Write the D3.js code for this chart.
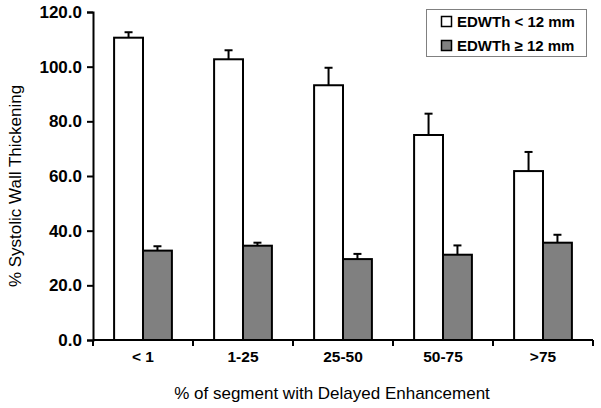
<!DOCTYPE html>
<html lang="en">
<head>
    <meta charset="UTF-8">
    <title>Systolic Wall Thickening</title>
    <script src="https://d3js.org/d3.v7.min.js"></script>
    <style>
        body { margin: 0; background: #fff; }
        text { font-family: Arial, "Liberation Sans", sans-serif; fill: #000; }
        .tick-label { font-size: 17px; font-weight: bold; }
        .cat-label { font-size: 15.5px; font-weight: bold; }
        .axis-title { font-size: 17px; }
        .legend-label { font-size: 15px; font-weight: bold; }
    </style>
</head>
<body>
    <div id="chart"></div>
    <script>
        // 数据
        const categories = ['< 1', '1-25', '25-50', '50-75', '>75'];
        const seriesNames = ['EDWTh < 12 mm', 'EDWTh \u2265 12 mm'];
        const thinValues = [110.6, 102.7, 93.2, 75.0, 61.8];
        const thinErrors = [2.0, 3.3, 6.4, 7.8, 7.0];
        const thickValues = [32.7, 34.5, 29.6, 31.2, 35.6];
        const thickErrors = [1.6, 1.1, 1.9, 3.4, 2.9];
        const yTicks = [0, 20, 40, 60, 80, 100, 120];

        const width = 601, height = 408;
        const margin = { left: 93, right: 8, top: 12, bottom: 68 };
        const colors = ['#ffffff', '#808080'];

        const svg = d3.select('#chart').append('svg')
            .attr('width', width)
            .attr('height', height);

        const x = d3.scaleBand()
            .domain(categories)
            .range([margin.left, width - margin.right]);

        const xInner = d3.scaleBand()
            .domain([0, 1])
            .range([0, x.bandwidth()])
            .paddingOuter(0.73)
            .paddingInner(0);

        const y = d3.scaleLinear()
            .domain([0, 120])
            .range([height - margin.bottom, margin.top]);

        const series = [
            { values: thinValues, errors: thinErrors },
            { values: thickValues, errors: thickErrors }
        ];

        // 柱子
        series.forEach((s, si) => {
            const g = svg.append('g');
            g.selectAll('rect')
                .data(categories)
                .enter().append('rect')
                .attr('x', c => x(c) + xInner(si))
                .attr('y', (c, i) => y(s.values[i]))
                .attr('width', xInner.bandwidth())
                .attr('height', (c, i) => y(0) - y(s.values[i]))
                .attr('fill', colors[si])
                .attr('stroke', '#000')
                .attr('stroke-width', 2);

            // 误差线 (只向上)
            const cx = c => x(c) + xInner(si) + xInner.bandwidth() / 2;
            const err = g.selectAll('g.err')
                .data(categories)
                .enter().append('g')
                .attr('class', 'err');
            err.append('line')
                .attr('x1', cx)
                .attr('x2', cx)
                .attr('y1', (c, i) => y(s.values[i]))
                .attr('y2', (c, i) => y(s.values[i] + s.errors[i]))
                .attr('stroke', '#000')
                .attr('stroke-width', 2);
            err.append('line')
                .attr('x1', c => cx(c) - 4)
                .attr('x2', c => cx(c) + 4)
                .attr('y1', (c, i) => y(s.values[i] + s.errors[i]))
                .attr('y2', (c, i) => y(s.values[i] + s.errors[i]))
                .attr('stroke', '#000')
                .attr('stroke-width', 2);
        });

        // Y 轴
        const yAxis = svg.append('g')
            .attr('transform', `translate(${margin.left},0)`)
            .call(d3.axisLeft(y).tickValues(yTicks).tickFormat(d3.format('.1f')).tickSize(6).tickPadding(5));
        yAxis.attr('font-size', null).attr('font-family', null);
        yAxis.select('.domain').attr('stroke', '#000').attr('stroke-width', 2);
        yAxis.selectAll('.tick line').attr('stroke', '#000').attr('stroke-width', 2);
        yAxis.selectAll('.tick text').attr('class', 'tick-label').attr('fill', '#000');

        // X 轴 (刻度在类别之间)
        const xAxisG = svg.append('g')
            .attr('transform', `translate(0,${y(0)})`);
        xAxisG.append('line')
            .attr('x1', margin.left).attr('x2', width - margin.right)
            .attr('y1', 0).attr('y2', 0)
            .attr('stroke', '#000').attr('stroke-width', 2);
        const boundaries = categories.map(c => x(c)).concat([x(categories[categories.length - 1]) + x.bandwidth()]);
        xAxisG.selectAll('line.tk')
            .data(boundaries)
            .enter().append('line')
            .attr('class', 'tk')
            .attr('x1', d => d).attr('x2', d => d)
            .attr('y1', 0).attr('y2', 6)
            .attr('stroke', '#000').attr('stroke-width', 2);
        xAxisG.selectAll('text')
            .data(categories)
            .enter().append('text')
            .attr('class', 'cat-label')
            .attr('x', c => x(c) + x.bandwidth() / 2)
            .attr('y', 22)
            .attr('text-anchor', 'middle')
            .text(c => c);

        // 轴标题
        svg.append('text')
            .attr('class', 'axis-title')
            .attr('x', 332)
            .attr('y', 399)
            .attr('text-anchor', 'middle')
            .text('% of segment with Delayed Enhancement');

        svg.append('text')
            .attr('class', 'axis-title')
            .attr('transform', 'translate(21,186) rotate(-90)')
            .attr('text-anchor', 'middle')
            .text('% Systolic Wall Thickening');

        // 图例
        const legend = svg.append('g');
        legend.append('rect')
            .attr('x', 426.5).attr('y', 9.5)
            .attr('width', 160).attr('height', 47)
            .attr('fill', '#fff')
            .attr('stroke', '#808080')
            .attr('stroke-width', 1);
        seriesNames.forEach((name, i) => {
            legend.append('rect')
                .attr('x', 441.5).attr('y', 16.5 + i * 24)
                .attr('width', 10).attr('height', 10)
                .attr('fill', colors[i])
                .attr('stroke', '#000')
                .attr('stroke-width', 1.5);
            legend.append('text')
                .attr('class', 'legend-label')
                .attr('x', 457)
                .attr('y', 27 + i * 24)
                .text(name);
        });
    </script>
</body>
</html>
